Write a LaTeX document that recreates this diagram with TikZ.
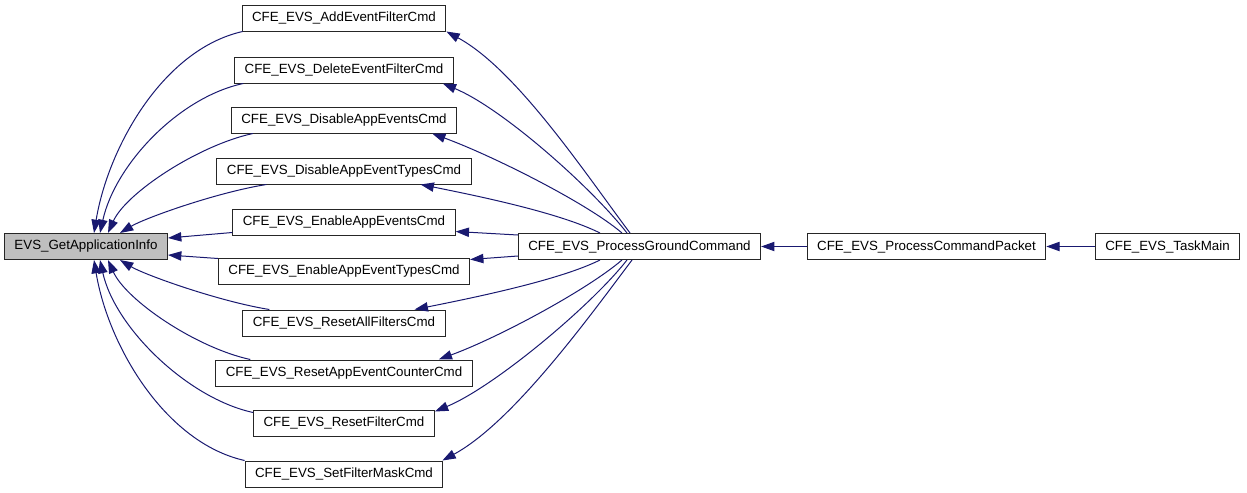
\documentclass[tikz,border=0pt]{standalone}
\usepackage{fontspec}
\setmainfont{Liberation Sans}
\usetikzlibrary{arrows.meta,calc}
\definecolor{dxnavy}{HTML}{191970}
\definecolor{dxgray}{HTML}{BFBFBF}
\tikzset{
  fnBox/.style={draw=black!85, line width=0.75pt, inner xsep=7.5pt, inner ysep=0pt, minimum height=19.5pt, font=\fontsize{10}{12}\selectfont},
  curBox/.style={fnBox, fill=dxgray},
  callArrow/.style={-{Triangle[length=10pt,width=7pt]}, line width=0.75pt, draw=dxnavy}
}

\begin{document}
\begin{tikzpicture}[x=0.75pt,y=-0.75pt]
  \useasboundingbox (0,0) rectangle (1247,493);
  \node[curBox] (evs) at (86,246.5) {EVS\_GetApplicationInfo};
  \node[fnBox] (add)   at (344,18)  {CFE\_EVS\_AddEventFilterCmd};
  \node[fnBox] (del)   at (344,70)  {CFE\_EVS\_DeleteEventFilterCmd};
  \node[fnBox] (dis)   at (344,120) {CFE\_EVS\_DisableAppEventsCmd};
  \node[fnBox] (dist)  at (344,171) {CFE\_EVS\_DisableAppEventTypesCmd};
  \node[fnBox] (en)    at (344,222) {CFE\_EVS\_EnableAppEventsCmd};
  \node[fnBox] (ent)   at (344,271) {CFE\_EVS\_EnableAppEventTypesCmd};
  \node[fnBox] (rall)  at (344,323) {CFE\_EVS\_ResetAllFiltersCmd};
  \node[fnBox] (rcnt)  at (344,373) {CFE\_EVS\_ResetAppEventCounterCmd};
  \node[fnBox] (rflt)  at (344,423) {CFE\_EVS\_ResetFilterCmd};
  \node[fnBox] (smask) at (344,474) {CFE\_EVS\_SetFilterMaskCmd};
  \node[fnBox] (pgc)   at (639.5,246.5) {CFE\_EVS\_ProcessGroundCommand};
  \node[fnBox] (pcp)   at (926.5,246.5) {CFE\_EVS\_ProcessCommandPacket};
  \node[fnBox] (tm)    at (1167.5,246.5) {CFE\_EVS\_TaskMain};
  % callers of EVS_GetApplicationInfo
  \draw[callArrow] ($(add.south west)+(1,0)$) .. controls +(-80,18) and +(14,-85) .. ($(evs.north)+(8,0)$);
  \draw[callArrow] ($(del.south west)+(9,0)$) .. controls +(-65,14) and +(15,-68) .. ($(evs.north)+(14,0)$);
  \draw[callArrow] ($(dis.south west)+(22,0)$) .. controls +(-55,12) and +(18,-40) .. ($(evs.north)+(22,0)$);
  \draw[callArrow] ($(dist.south west)+(50,0)$) .. controls +(-50,8) and +(25,-15) .. ($(evs.north)+(34,0)$);
  \draw[callArrow] ($(en.south west)+(0,-3)$) -- ($(evs.east)+(0,-8.5)$);
  \draw[callArrow] ($(ent.north west)+(0,1)$) -- ($(evs.east)+(0,8.5)$);
  \draw[callArrow] ($(rall.north west)+(27,0)$) .. controls +(-50,-8) and +(25,15) .. ($(evs.south)+(34,0)$);
  \draw[callArrow] ($(rcnt.north west)+(35,0)$) .. controls +(-55,-12) and +(18,40) .. ($(evs.south)+(22,0)$);
  \draw[callArrow] ($(rflt.north west)+(0,3)$) .. controls +(-65,-14) and +(15,68) .. ($(evs.south)+(14,0)$);
  \draw[callArrow] (smask.north west) .. controls +(-80,-18) and +(14,85) .. ($(evs.south)+(8,0)$);
  % ground command dispatch
  \draw[callArrow] ($(pgc.north)+(-9.5,0)$) .. controls +(-45,-60) and +(70,38) .. (add.south east);
  \draw[callArrow] ($(pgc.north)+(-12.5,0)$) .. controls +(-35,-45) and +(60,25) .. ($(del.south east)+(-11,0)$);
  \draw[callArrow] ($(pgc.north)+(-17.5,0)$) .. controls +(-35,-30) and +(60,22) .. ($(dis.south east)+(-25,0)$);
  \draw[callArrow] ($(pgc.north)+(-39.5,0)$) .. controls +(-40,-20) and +(60,12) .. ($(dist.south east)+(-51,0)$);
  \draw[callArrow] ($(pgc.north west)+(0,2)$) -- ($(en.south east)+(0,-4)$);
  \draw[callArrow] ($(pgc.south west)+(0,-4)$) -- ($(ent.north east)+(0,2)$);
  \draw[callArrow] ($(pgc.south)+(-39.5,0)$) .. controls +(-40,20) and +(60,-12) .. ($(rall.north east)+(-31,0)$);
  \draw[callArrow] ($(pgc.south)+(-17.5,0)$) .. controls +(-35,30) and +(60,-22) .. ($(rcnt.north east)+(-34,0)$);
  \draw[callArrow] ($(pgc.south)+(-12.5,0)$) .. controls +(-35,45) and +(60,-25) .. ($(rflt.north east)+(0,2)$);
  \draw[callArrow] ($(pgc.south)+(-7.5,0)$) .. controls +(-45,60) and +(70,-38) .. ($(smask.north east)+(-1,0)$);
  \draw[callArrow] (pcp) -- (pgc);
  \draw[callArrow] (tm) -- (pcp);
\end{tikzpicture}
\end{document}
